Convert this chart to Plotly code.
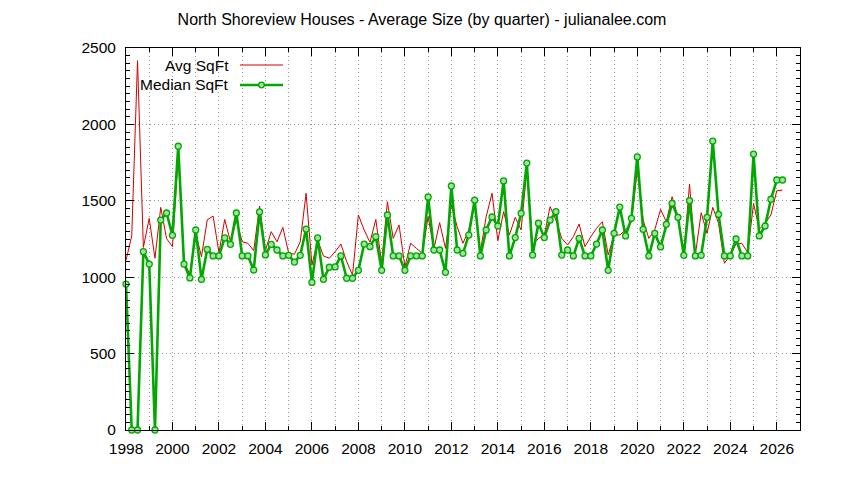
import pandas as pd
import plotly.graph_objects as go

# Quarter categories (1998 Q1 .. 2026 Q2)
quarters = pd.period_range("1998Q1", "2026Q2", freq="Q")
quarter_dates = [q.start_time.strftime("%Y-%m-%d") for q in quarters]

avg_sqft = [
    1110, 1270, 2417, 1195, 1385, 1124, 1457, 1252,
    1200, 1800, 1100, 1020, 1290, 1134, 1376, 1400,
    1160, 1378, 1232, 1374, 1232, 1222, 1174, 1466,
    1174, 1298, 1232, 1326, 1157, 1150, 1232, 1549,
    1080, 1243, 1139, 1124, 1167, 1217, 1102, 1014,
    1407, 1309, 1228, 1378, 1091, 1494, 1254, 1342,
    1069, 1222, 1189, 1156, 1396, 1185, 1357, 1189,
    1473, 1331, 1222, 1309, 1494, 1167, 1396, 1549,
    1239, 1429, 1276, 1392, 1309, 1702, 1211, 1254,
    1276, 1462, 1374, 1254, 1211, 1265, 1348, 1200,
    1265, 1320, 1363, 1145, 1276, 1276, 1309, 1363,
    1702, 1374, 1254, 1309, 1444, 1363, 1527, 1396,
    1145, 1610, 1145, 1422, 1287, 1457, 1353, 1091,
    1145, 1217, 1222, 1160, 1483, 1313, 1353, 1407,
    1566, 1570,
]

median_sqft = [
    955, 0, 0, 1167, 1086, 0, 1374, 1420,
    1274, 1857, 1086, 995, 1309, 986, 1182, 1139,
    1139, 1257, 1215, 1420, 1139, 1139, 1047, 1427,
    1146, 1215, 1178, 1139, 1143, 1099, 1143, 1315,
    966, 1257, 986, 1065, 1067, 1139, 993, 993,
    1045, 1217, 1200, 1265, 1045, 1407, 1139, 1139,
    1045, 1139, 1139, 1139, 1525, 1178, 1178, 1032,
    1597, 1178, 1156, 1276, 1505, 1139, 1309, 1394,
    1335, 1630, 1139, 1259, 1418, 1747, 1145, 1353,
    1259, 1374, 1429, 1145, 1178, 1139, 1254, 1139,
    1139, 1217, 1309, 1045, 1287, 1459, 1270, 1385,
    1787, 1313, 1139, 1287, 1198, 1346, 1483, 1392,
    1143, 1501, 1139, 1143, 1392, 1891, 1411, 1139,
    1139, 1250, 1139, 1139, 1806, 1270, 1335, 1510,
    1636, 1636,
]

title_text = "North Shoreview Houses - Average Size (by quarter) - julianalee.com"
series_names = ["Avg SqFt", "Median SqFt"]

RED = "#d40000"
GREEN = "#00a800"
MFILL = "#9fe39f"
FONT = "Liberation Sans"
FS = 15.5

fig = go.Figure()
fig.add_trace(go.Scatter(
    x=quarter_dates, y=avg_sqft, mode="lines", name=series_names[0],
    line=dict(color=RED, width=1), showlegend=False,
))
fig.add_trace(go.Scatter(
    x=quarter_dates, y=median_sqft, mode="lines+markers", name=series_names[1],
    line=dict(color=GREEN, width=2.6),
    marker=dict(symbol="circle", size=6, color=MFILL,
                line=dict(color=GREEN, width=1.3)),
    cliponaxis=False, showlegend=False,
))

grid = dict(gridcolor="#9a9a9a", griddash="1px,3px", gridwidth=1)

fig.update_xaxes(
    type="date", range=["1998-01-01", "2027-01-01"],
    tick0="1998-01-01", dtick="M24", tickformat="%Y",
    ticks="inside", ticklen=8, tickcolor="black", tickwidth=1,
    showline=True, linecolor="black", linewidth=1, mirror="ticks",
    showgrid=True, **grid, zeroline=False,
    tickfont=dict(family=FONT, size=FS, color="black"),
    minor=dict(dtick="M12", ticks="inside", ticklen=4, tickcolor="black",
               showgrid=True, **grid),
    ticklabelstandoff=4,
)
fig.update_yaxes(
    range=[0, 2500], dtick=500, tick0=0,
    ticks="inside", ticklen=8, tickcolor="black", tickwidth=1,
    showline=True, linecolor="black", linewidth=1, mirror="ticks",
    showgrid=True, **grid, zeroline=False,
    tickfont=dict(family=FONT, size=FS, color="black"),
    minor=dict(dtick=50, ticks="inside", ticklen=4, tickcolor="black",
               showgrid=False),
    ticklabelstandoff=6,
)

# Custom gnuplot-style legend (text right-aligned, sample to the right)
PW, PH = 674.0, 382.0
def px(x):
    return (x - 126) / PW
def py(y):
    return (430 - y) / PH

legend_rows = [(65, series_names[0], RED, 1, False),
               (85, series_names[1], GREEN, 2.6, True)]
for ypix, name, col, w, mk in legend_rows:
    fig.add_annotation(x=px(231), y=py(ypix), xref="paper", yref="paper",
                       text=name, showarrow=False, xanchor="right",
                       yanchor="middle",
                       font=dict(family=FONT, size=FS, color="black"))
    fig.add_shape(type="line", xref="paper", yref="paper",
                  x0=px(240), x1=px(283), y0=py(ypix), y1=py(ypix),
                  line=dict(color=col, width=w))
    if mk:
        fig.add_shape(type="circle", xref="paper", yref="paper",
                      x0=px(261.5 - 2.8), x1=px(261.5 + 2.8),
                      y0=py(ypix + 2.8), y1=py(ypix - 2.8),
                      fillcolor=MFILL, line=dict(color=GREEN, width=1.3))

fig.update_layout(
    width=844, height=480,
    margin=dict(l=126, r=44, t=48, b=50),
    paper_bgcolor="white", plot_bgcolor="white",
    font=dict(family=FONT, size=FS, color="black"),
    title=dict(text=title_text, x=0.5, xref="container", xanchor="center",
               y=1 - 19 / 480, yref="container", yanchor="middle",
               font=dict(family=FONT, size=16, color="black")),
)

fig.write_html("out.html", config={"displayModeBar": False},
               post_script="document.body.style.margin='0px';")
